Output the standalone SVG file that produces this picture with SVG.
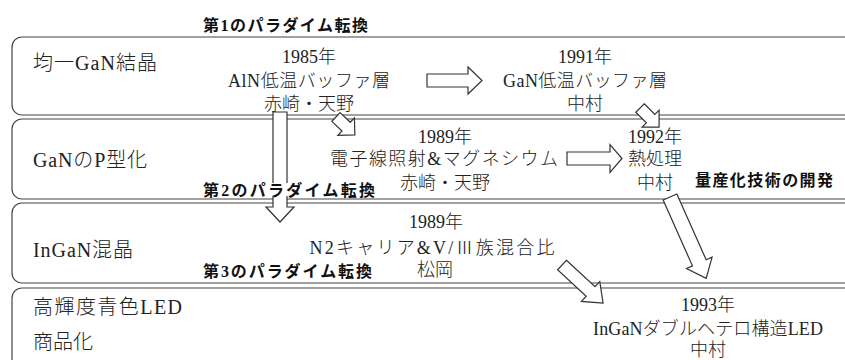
<svg xmlns="http://www.w3.org/2000/svg" width="845" height="360" viewBox="0 0 845 360">
<style>
.box{fill:#fff;stroke:#444;stroke-width:1.2}
.arr{fill:#fff;stroke:#333;stroke-width:1.2;stroke-linejoin:miter}
text{font-family:"Liberation Serif","Noto Sans CJK JP",serif;fill:#222;font-weight:300}
.lbl{font-size:20px}
.c{font-size:18px;text-anchor:middle}
.b{font-family:"Liberation Serif","Noto Sans CJK JP",sans-serif;font-weight:bold;font-size:16px;fill:#111}
.bg{fill:#fff}
</style>
<rect width="845" height="360" fill="#fff"/>
<g id="row1"><rect class="box" x="12" y="37" width="850" height="78" rx="10"/></g>
<g id="row2"><rect class="box" x="12" y="119" width="850" height="80" rx="10"/></g>
<g id="row3"><rect class="box" x="12" y="203" width="850" height="80" rx="10"/></g>
<g id="row4"><rect class="box" x="12" y="288" width="850" height="90" rx="10"/></g>
<g id="connectors">
<polygon class="arr" transform="translate(427,80.5)" points="0,-6.5 41,-6.5 41,-13.5 55,0 41,13.5 41,6.5 0,6.5"/>
<polygon class="arr" transform="translate(567,158.5)" points="0,-6.5 43,-6.5 43,-14 55,0 43,14 43,6.5 0,6.5"/>
<polygon class="arr" transform="translate(280,112) rotate(90)" points="0,-7 95,-7 95,-14 110,0 95,14 95,7 0,7"/>
<polygon class="arr" transform="translate(336,117) rotate(43.5)" points="0,-6 14,-6 14,-12 26,0 14,12 14,6 0,6"/>
<polygon class="arr" transform="translate(640,108) rotate(45)" points="0,-6 15,-6 15,-12 27,0 15,12 15,6 0,6"/>
<polygon class="arr" transform="translate(670,197) rotate(66)" points="0,-7.5 72,-7.5 72,-14 89,0 72,14 72,7.5 0,7.5"/>
<polygon class="arr" transform="translate(562,265) rotate(42.8)" points="0,-6.5 39,-6.5 39,-13.5 56,0 39,13.5 39,6.5 0,6.5"/>
</g>
<g id="paradigm1"><text class="b" x="203" y="31" textLength="165">第1のパラダイム転換</text></g>
<g id="paradigm2"><rect class="bg" x="200" y="183" width="178" height="13"/><text class="b" x="203" y="196" textLength="172">第2のパラダイム転換</text></g>
<g id="paradigm3"><rect class="bg" x="198" y="263" width="186" height="18"/><text class="b" x="203" y="277" textLength="169">第3のパラダイム転換</text></g>
<g id="mass"><text class="b" x="695" y="186" textLength="138">量産化技術の開発</text></g>
<g id="label1"><text class="lbl" x="33" y="70" textLength="124">均一GaN結晶</text></g>
<g id="label2"><text class="lbl" x="33" y="167" textLength="114">GaNのP型化</text></g>
<g id="label3"><text class="lbl" x="33" y="257" textLength="100">InGaN混晶</text></g>
<g id="label4"><text class="lbl" x="33" y="314" textLength="149">高輝度青色LED</text><text class="lbl" x="33" y="349">商品化</text></g>
<g id="n1985"><text class="c" x="309" y="63">1985年</text><text class="c" x="309" y="87" textLength="162">AlN低温バッファ層</text><text class="c" x="309" y="110">赤崎・天野</text></g>
<g id="n1991"><text class="c" x="585" y="63">1991年</text><text class="c" x="585" y="87" textLength="164">GaN低温バッファ層</text><text class="c" x="585" y="110">中村</text></g>
<g id="n1989a"><text class="c" x="445" y="143">1989年</text><text class="c" x="444" y="165" textLength="228">電子線照射&amp;マグネシウム</text><text class="c" x="445" y="189">赤崎・天野</text></g>
<g id="n1992"><text class="c" x="655" y="143">1992年</text><text class="c" x="655" y="165">熱処理</text><text class="c" x="655" y="189">中村</text></g>
<g id="n1989b"><text class="c" x="436" y="228">1989年</text><text class="c" x="432" y="254" textLength="245">N2キャリア&amp;V/Ⅲ族混合比</text><text class="c" x="435" y="276">松岡</text></g>
<g id="n1993"><text class="c" x="708" y="311">1993年</text><text class="c" x="708" y="335" textLength="230">InGaNダブルヘテロ構造LED</text><text class="c" x="708" y="356">中村</text></g>
</svg>
